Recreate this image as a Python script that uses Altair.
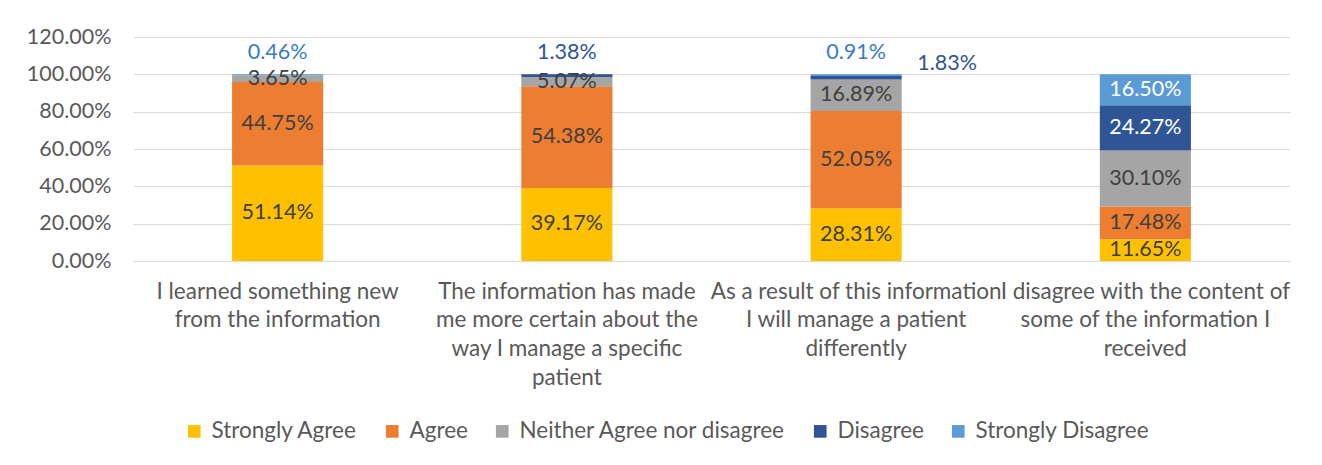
import altair as alt
import pandas as pd

categories = [
    "I learned something new\nfrom the information",
    "The information has made\nme more certain about the\nway I manage a specific\npatient",
    "As a result of this information\nI will manage a patient\ndifferently",
    "I disagree with the content of\nsome of the information I\nreceived",
]
series = ["Strongly Agree", "Agree", "Neither Agree nor disagree", "Disagree", "Strongly Disagree"]
colors = ["#FFC000", "#ED7D31", "#A5A5A5", "#2F5597", "#5B9BD5"]
y_ticks = [0, 0.2, 0.4, 0.6, 0.8, 1.0, 1.2]

strongly_agree = [51.14, 39.17, 28.31, 11.65]
agree = [44.75, 54.38, 52.05, 17.48]
neither = [3.65, 5.07, 16.89, 30.10]
disagree = [0.0, 1.38, 1.83, 24.27]
strongly_disagree = [0.46, 0.0, 0.91, 16.50]

values = [strongly_agree, agree, neither, disagree, strongly_disagree]
inner_text_colors = ["#404040", "#404040", "#404040", "#FFFFFF", "#FFFFFF"]
outer_text_colors = ["#404040", "#404040", "#404040", "#2F5597", "#3B7DC4"]

rows = []
for ci, cat in enumerate(categories):
    cum = 0.0
    for si, s in enumerate(series):
        v = values[si][ci] / 100.0
        lo, hi = cum, cum + v
        cum = hi
        if v <= 0:
            continue
        rows.append(dict(category=cat, series=s, order=si, value=v, lo=lo, hi=hi,
                         mid=(lo + hi) / 2, small=v < 0.02,
                         tcolor=inner_text_colors[si] if v >= 0.02 else outer_text_colors[si]))
df = pd.DataFrame(rows)
# among small segments in a category, all but the topmost one are shifted to the side
df["shift"] = False
for cat, g in df[df["small"]].groupby("category"):
    if len(g) > 1:
        idx = g.sort_values("order").index[:-1]
        df.loc[idx, "shift"] = True

FONT = "Lato"
NUM = 21.5
TXT = 22.5
x_enc = alt.X(
    "category:N", sort=categories, title=None,
    scale=alt.Scale(paddingInner=0.685, paddingOuter=0.3425),
    axis=alt.Axis(labelExpr="split(datum.label, '\\n')", labelAngle=0, ticks=False,
                  domainColor="#D9D9D9", labelFontSize=TXT, labelColor="#595959",
                  labelPadding=19, labelLimit=600, labelLineHeight=28.7,
                  labelOverlap=False, labelBaseline="top"),
)
y_scale = alt.Scale(domain=[0, 1.2], nice=False)
y_axis = alt.Axis(values=y_ticks, format=".2%", ticks=False, domain=False,
                  gridColor="#D9D9D9", labelOverlap=False, labelFontSize=NUM,
                  labelColor="#595959", labelPadding=22, title=None)

bars = alt.Chart(df).mark_bar().encode(
    x=x_enc,
    y=alt.Y("lo:Q", scale=y_scale, axis=y_axis),
    y2="hi:Q",
    color=alt.Color("series:N", scale=alt.Scale(domain=series, range=colors),
                    legend=alt.Legend(orient="none", legendX=50, legendY=383,
                                      direction="horizontal", title=None,
                                      symbolType="square", symbolSize=160,
                                      symbolStrokeWidth=0, labelFontSize=TXT,
                                      labelColor="#595959", columnPadding=23,
                                      labelOffset=6, labelLimit=600)),
)

inner = alt.Chart(df[~df["small"]]).mark_text(fontSize=NUM).encode(
    x=x_enc,
    y=alt.Y("mid:Q", scale=y_scale, axis=y_axis),
    text=alt.Text("value:Q", format=".2%"),
    color=alt.Color("tcolor:N", scale=None),
)

top_small = alt.Chart(df[df["small"] & ~df["shift"]]).mark_text(fontSize=NUM, dy=-21).encode(
    x=x_enc,
    y=alt.Y("hi:Q", scale=y_scale, axis=y_axis),
    text=alt.Text("value:Q", format=".2%"),
    color=alt.Color("tcolor:N", scale=None),
)

side_small = alt.Chart(df[df["shift"]]).mark_text(fontSize=NUM, dx=91, dy=-12).encode(
    x=x_enc,
    y=alt.Y("hi:Q", scale=y_scale, axis=y_axis),
    text=alt.Text("value:Q", format=".2%"),
    color=alt.Color("tcolor:N", scale=None),
)

chart = alt.layer(bars, inner, top_small, side_small).properties(
    width=1157, height=224,
    autosize=alt.AutoSizeParams(type="none"),
    padding={"left": 125, "top": 29, "right": 20, "bottom": 190},
).configure(font=FONT).configure_view(stroke=None)

chart.save("out.html", embed_options={"renderer": "svg", "actions": False})
